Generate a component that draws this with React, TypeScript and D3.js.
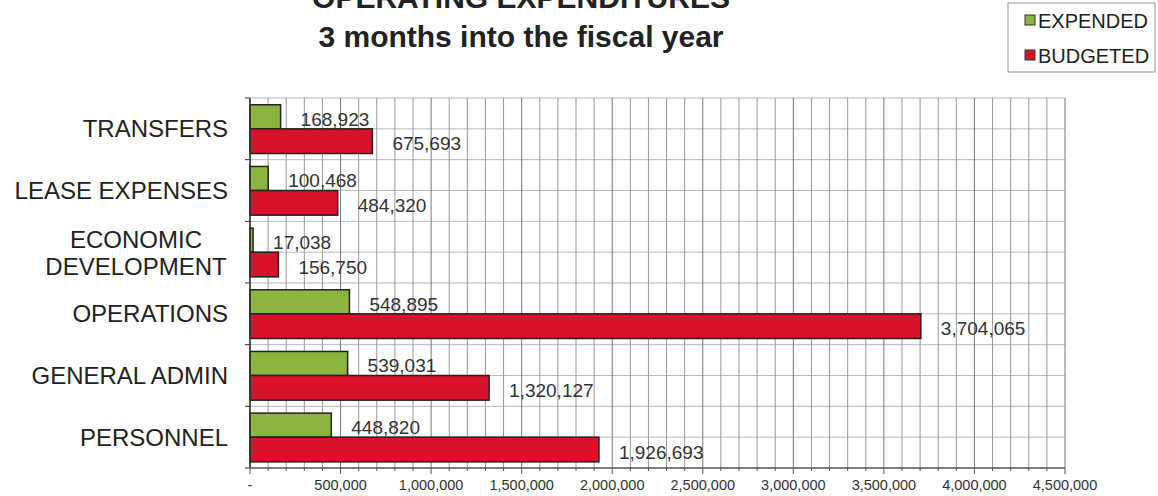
import React from "react";
import * as d3 from "d3";

const categories = ["TRANSFERS", "LEASE EXPENSES", "ECONOMIC\nDEVELOPMENT", "OPERATIONS", "GENERAL ADMIN", "PERSONNEL"];
const expended = [168923, 100468, 17038, 548895, 539031, 448820];
const budgeted = [675693, 484320, 156750, 3704065, 1320127, 1926693];
const majorTicks = [0, 500000, 1000000, 1500000, 2000000, 2500000, 3000000, 3500000, 4000000, 4500000];
const seriesNames = ["EXPENDED", "BUDGETED"];

const W = 1158, H = 496;
const left = 250, right = 1065, top = 98, bottom = 468;
const GREEN = "#8db43f", RED = "#d9112b";
const FONT = "'Liberation Sans', Arial, sans-serif";

export default function App() {
  const x = d3.scaleLinear().domain([0, 4500000]).range([left, right]);
  const y = d3.scaleBand<string>().domain(categories).range([top, bottom]).paddingInner(0).paddingOuter(0);
  const bw = y.bandwidth();
  const minor = d3.range(0, 4500001, 100000);
  const fmt = d3.format(",");

  return (
    <svg width={W} height={H} style={{ position: "absolute", left: 0, top: 0, background: "#fff" }} fontFamily={FONT}>
      <rect width={W} height={H} fill="#fff" />
      {/* Title */}
      <text x={521} y={8} textAnchor="middle" fontSize={30} fontWeight="bold" fill="#222">OPERATING EXPENDITURES</text>
      <text x={521} y={47} textAnchor="middle" fontSize={30} fontWeight="bold" fill="#222">3 months into the fiscal year</text>

      {/* Legend */}
      <rect x={1008} y={3} width={147} height={69} fill="#fff" stroke="#999" strokeWidth={1} />
      {seriesNames.map((s, i) => (
        <g key={s}>
          <rect x={1025} y={15 + i * 35} width={10} height={10} fill={i === 0 ? GREEN : RED} stroke="#333" strokeWidth={1} />
          <text x={1038} y={28 + i * 35} fontSize={20} fill="#222">{s}</text>
        </g>
      ))}

      {/* Horizontal grid */}
      {categories.map((c) => (
        <g key={"h" + c}>
          <line x1={left} x2={right} y1={y(c)!} y2={y(c)!} stroke="#bbb" />
          <line x1={left} x2={right} y1={y(c)! + bw / 2} y2={y(c)! + bw / 2} stroke="#bbb" />
        </g>
      ))}
      {/* Vertical grid */}
      {minor.map((v) => (
        <line key={"v" + v} x1={x(v)} x2={x(v)} y1={top} y2={bottom} stroke={v % 500000 === 0 ? "#777" : "#999"} strokeWidth={1} />
      ))}

      {/* Bars */}
      {categories.map((c, i) => {
        const y0 = y(c)!;
        return (
          <g key={"b" + c}>
            <rect x={x(0)} y={y0 + bw * 0.11} width={x(expended[i]) - x(0)} height={bw * 0.39} fill={GREEN} stroke="#222" strokeWidth={1.5} />
            <rect x={x(0)} y={y0 + bw * 0.5} width={x(budgeted[i]) - x(0)} height={bw * 0.4} fill={RED} stroke="#222" strokeWidth={1.5} />
            <text x={x(expended[i]) + 20} y={y0 + bw * 0.305 + 9} fontSize={19} fill="#333">{fmt(expended[i])}</text>
            <text x={x(budgeted[i]) + 20} y={y0 + bw * 0.7 + 9} fontSize={19} fill="#333">{fmt(budgeted[i])}</text>
          </g>
        );
      })}

      {/* Axes */}
      <line x1={left} x2={left} y1={top} y2={bottom} stroke="#333" strokeWidth={1.5} />
      {categories.map((c) => (
        <line key={"lt" + c} x1={left - 5} x2={left} y1={y(c)!} y2={y(c)!} stroke="#333" />
      ))}
      <line x1={left - 5} x2={left} y1={bottom} y2={bottom} stroke="#333" />
      <line x1={left} x2={right} y1={bottom} y2={bottom} stroke="#555" strokeWidth={1.5} />
      {minor.map((v) => (
        <line key={"mt" + v} x1={x(v)} x2={x(v)} y1={bottom} y2={bottom + (v % 500000 === 0 ? 6 : 3)} stroke="#555" />
      ))}
      {majorTicks.map((v) => (
        <text key={"tl" + v} x={x(v)} y={490} textAnchor="middle" fontSize={14.5} fill="#333">{v === 0 ? "-" : fmt(v)}</text>
      ))}

      {/* Category labels */}
      {categories.map((c) => {
        const cy = y(c)! + bw / 2;
        const lines = c.split("\n");
        if (lines.length === 1) {
          return <text key={"cl" + c} x={228} y={cy + 8.5} textAnchor="end" fontSize={24} fill="#222">{c}</text>;
        }
        return (
          <g key={"cl" + c}>
            {lines.map((l, k) => (
              <text key={l} x={136} y={cy - 4.5 + k * 27} textAnchor="middle" fontSize={24} fill="#222">{l}</text>
            ))}
          </g>
        );
      })}
    </svg>
  );
}
